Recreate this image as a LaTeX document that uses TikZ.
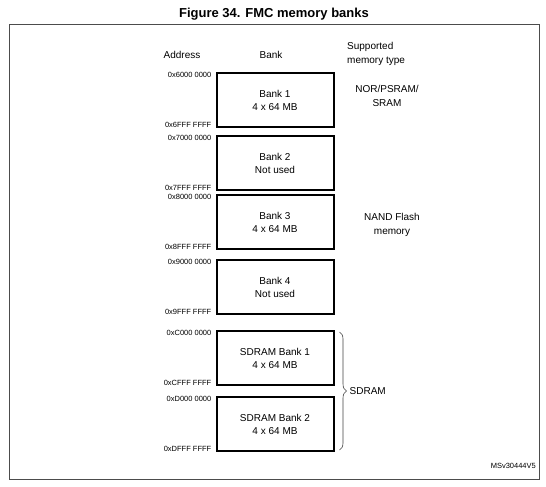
\documentclass[tikz,border=0pt]{standalone}
\usepackage{fontspec}
\setmainfont{Liberation Sans}
\usepackage{tikz}
\usetikzlibrary{decorations.pathreplacing, calc}
\tikzstyle{bank} = [draw, line width=2pt, minimum width=117pt, minimum height=54pt, inner sep=0pt, align=center, font=\fontsize{10}{13}\selectfont]
\tikzstyle{addr} = [anchor=east, inner sep=0pt, font=\fontsize{7.5}{8}\selectfont]
\tikzstyle{head} = [inner sep=0pt, font=\fontsize{10}{13.5}\selectfont]
\tikzstyle{brace} = [decorate, decoration={brace, amplitude=7pt}, gray!50!black, line width=0.6pt]

\begin{document}
\begin{tikzpicture}[x=1pt, y=-1pt]
		\useasboundingbox (0,0) rectangle (546,487);
		\node (title) at (274,14) {\fontsize{13}{15}\selectfont\bfseries Figure 34. FMC memory banks};
		\draw [line width=0.8pt, gray!60!black] (9,24) rectangle (539,479);

		\node (haddr) [head] at (182,55) {Address};
		\node (hbank) [head] at (271,55) {Bank};
		\node (htype) [head, align=left, anchor=west] at (347,54) {Supported\\memory type};

		\node (b1) [bank] at (275,100) {Bank 1\\4 x 64 MB};
		\node (b2) [bank] at (275,163) {Bank 2\\Not used};
		\node (b3) [bank] at (275,222) {Bank 3\\4 x 64 MB};
		\node (b4) [bank] at (275,287) {Bank 4\\Not used};
		\node (sd1) [bank] at (275,358) {SDRAM Bank 1\\4 x 64 MB};
		\node (sd2) [bank] at (275,424) {SDRAM Bank 2\\4 x 64 MB};

		\node (a1s) [addr] at ([xshift=-4pt, yshift=-3pt]b1.north west) {0x6000 0000};
		\node (a1e) [addr] at ([xshift=-4pt, yshift=3pt]b1.south west) {0x6FFF FFFF};
		\node (a2s) [addr] at ([xshift=-4pt, yshift=-3pt]b2.north west) {0x7000 0000};
		\node (a2e) [addr] at ([xshift=-4pt, yshift=3pt]b2.south west) {0x7FFF FFFF};
		\node (a3s) [addr] at ([xshift=-4pt, yshift=-3pt]b3.north west) {0x8000 0000};
		\node (a3e) [addr] at ([xshift=-4pt, yshift=3pt]b3.south west) {0x8FFF FFFF};
		\node (a4s) [addr] at ([xshift=-4pt, yshift=-3pt]b4.north west) {0x9000 0000};
		\node (a4e) [addr] at ([xshift=-4pt, yshift=3pt]b4.south west) {0x9FFF FFFF};
		\node (a5s) [addr] at ([xshift=-4pt, yshift=-3pt]sd1.north west) {0xC000 0000};
		\node (a5e) [addr] at ([xshift=-4pt, yshift=3pt]sd1.south west) {0xCFFF FFFF};
		\node (a6s) [addr] at ([xshift=-4pt, yshift=-3pt]sd2.north west) {0xD000 0000};
		\node (a6e) [addr] at ([xshift=-4pt, yshift=3pt]sd2.south west) {0xDFFF FFFF};

		\node (nor) [head, align=center] at (387,96) {NOR/PSRAM/\\SRAM};
		\node (nand) [head, align=center] at (392,225) {NAND Flash\\memory};

		\coordinate (brtop) at ([xshift=5pt, yshift=-2pt]sd1.north east);
		\coordinate (brbot) at ([xshift=5pt, yshift=2pt]sd2.south east);
		\draw [brace] (brtop) -- (brbot);
		\node (sdram) [head, anchor=west] at ([xshift=10pt]$(brtop)!0.5!(brbot)$) {SDRAM};

		\node (ref) [addr] at (536,466) {MSv30444V5};
	\end{tikzpicture}
\end{document}
